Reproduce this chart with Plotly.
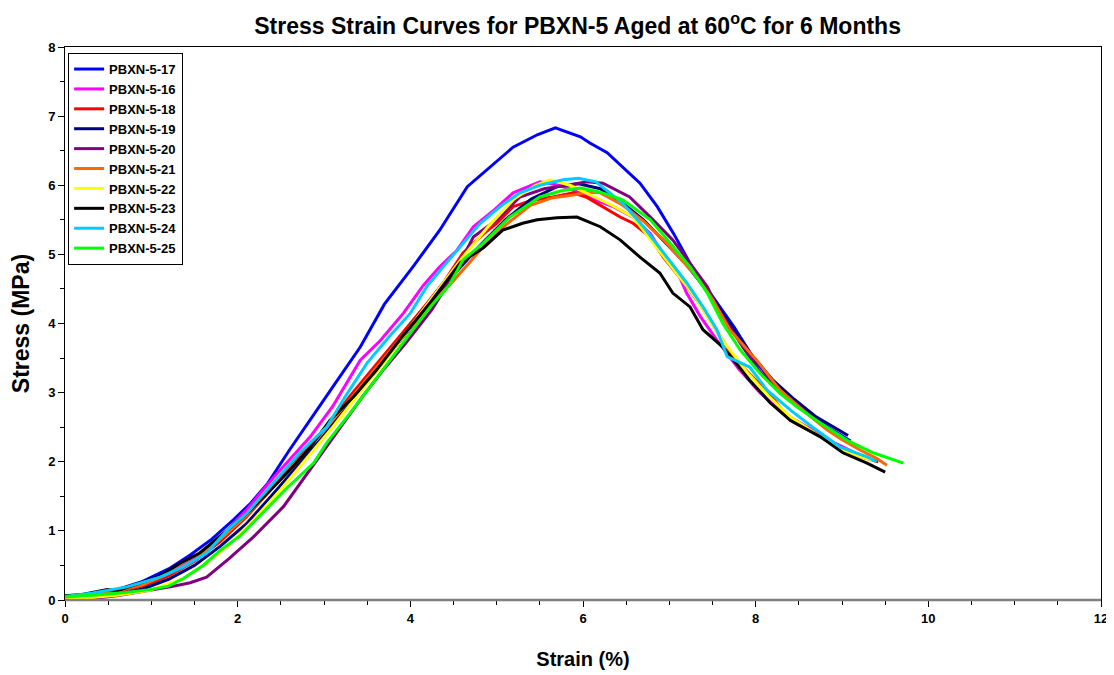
import plotly.graph_objects as go

names = ["PBXN-5-17", "PBXN-5-16", "PBXN-5-18", "PBXN-5-19", "PBXN-5-20",
         "PBXN-5-21", "PBXN-5-22", "PBXN-5-23", "PBXN-5-24", "PBXN-5-25"]
colors = ["#0000FF", "#FF00FF", "#FF0000", "#000080", "#800080",
          "#FF6600", "#FFFF00", "#000000", "#00CCFF", "#00FF00"]

strain_17 = [0, 0.3, 0.6, 0.9, 1.2, 1.45, 1.7, 1.95, 2.15, 2.35, 2.6, 2.84, 3.1, 3.42, 3.7, 4.03, 4.34, 4.66, 4.92, 5.19, 5.47, 5.68, 5.97, 6.08, 6.28, 6.46, 6.66, 6.86, 7.05, 7.27, 7.5, 7.75, 8.0, 8.3, 8.6, 8.9, 9.1]
stress_17 = [0.05, 0.08, 0.15, 0.27, 0.45, 0.65, 0.88, 1.16, 1.4, 1.69, 2.17, 2.6, 3.08, 3.66, 4.28, 4.82, 5.35, 5.98, 6.26, 6.55, 6.73, 6.83, 6.7, 6.61, 6.47, 6.26, 6.03, 5.69, 5.3, 4.8, 4.4, 3.95, 3.45, 3.0, 2.7, 2.45, 2.3]

strain_16 = [0, 0.3, 0.6, 0.9, 1.2, 1.5, 1.8, 2.1, 2.4, 2.62, 2.84, 3.1, 3.42, 3.65, 3.92, 4.15, 4.34, 4.54, 4.73, 4.95, 5.19, 5.5, 5.72, 5.95, 6.15, 6.35, 6.58, 6.78, 6.93, 7.1, 7.2, 7.36, 7.55, 7.8, 8.05, 8.3, 8.6, 8.9, 9.2, 9.35]
stress_16 = [0.03, 0.07, 0.13, 0.22, 0.38, 0.6, 0.9, 1.3, 1.75, 2.05, 2.36, 2.8, 3.47, 3.75, 4.15, 4.55, 4.82, 5.06, 5.4, 5.62, 5.89, 6.05, 6.0, 5.9, 5.78, 5.69, 5.54, 5.3, 5.0, 4.73, 4.44, 4.1, 3.76, 3.35, 3.0, 2.72, 2.5, 2.28, 2.1, 2.03]

strain_18 = [0, 0.3, 0.6, 0.9, 1.2, 1.5, 1.8, 2.1, 2.4, 2.7, 3.0, 3.3, 3.6, 3.9, 4.2, 4.4, 4.61, 4.85, 5.0, 5.19, 5.4, 5.65, 5.89, 6.05, 6.2, 6.43, 6.58, 6.78, 6.93, 7.12, 7.32, 7.5, 7.74, 8.0, 8.2, 8.4, 8.7, 9.0, 9.2, 9.42]
stress_18 = [0.02, 0.06, 0.12, 0.2, 0.35, 0.56, 0.85, 1.2, 1.62, 2.05, 2.45, 2.95, 3.4, 3.85, 4.3, 4.62, 5.02, 5.3, 5.45, 5.69, 5.78, 5.83, 5.89, 5.82, 5.71, 5.54, 5.45, 5.25, 4.96, 4.67, 4.34, 3.98, 3.52, 3.18, 2.92, 2.6, 2.4, 2.18, 2.08, 2.0]

strain_19 = [0, 0.3, 0.6, 0.9, 1.2, 1.5, 1.8, 2.1, 2.4, 2.7, 3.0, 3.3, 3.6, 3.9, 4.2, 4.5, 4.8, 5.1, 5.4, 5.7, 5.95, 6.2, 6.45, 6.7, 6.95, 7.2, 7.45, 7.7, 7.95, 8.2, 8.45, 8.7, 8.9, 9.07]
stress_19 = [0.0, 0.03, 0.08, 0.16, 0.3, 0.5, 0.78, 1.1, 1.52, 1.95, 2.38, 2.85, 3.3, 3.78, 4.25, 4.7, 5.12, 5.5, 5.8, 5.98, 6.02, 5.95, 5.75, 5.5, 5.18, 4.85, 4.45, 4.0, 3.55, 3.18, 2.9, 2.65, 2.5, 2.38]

strain_20 = [0, 0.3, 0.6, 0.9, 1.22, 1.45, 1.64, 1.9, 2.18, 2.53, 2.72, 2.95, 3.2, 3.45, 3.7, 3.95, 4.25, 4.5, 4.73, 5.0, 5.27, 5.55, 5.81, 6.05, 6.23, 6.54, 6.78, 7.04, 7.24, 7.44, 7.55, 7.67, 7.85, 8.05, 8.3, 8.55, 8.8, 9.0, 9.15]
stress_20 = [0.0, 0.02, 0.06, 0.12, 0.19, 0.25, 0.33, 0.6, 0.91, 1.35, 1.68, 2.07, 2.5, 2.95, 3.35, 3.72, 4.2, 4.7, 5.25, 5.5, 5.83, 5.95, 6.0, 6.05, 6.03, 5.83, 5.54, 5.21, 4.87, 4.53, 4.24, 4.0, 3.66, 3.3, 3.0, 2.75, 2.5, 2.35, 2.25]

strain_21 = [0, 0.3, 0.6, 0.9, 1.2, 1.5, 1.8, 2.1, 2.4, 2.7, 3.0, 3.3, 3.6, 3.9, 4.2, 4.5, 4.81, 5.1, 5.39, 5.65, 5.89, 6.05, 6.2, 6.45, 6.7, 6.93, 7.12, 7.32, 7.5, 7.7, 8.01, 8.28, 8.59, 8.83, 9.0, 9.21, 9.4, 9.52]
stress_21 = [0.02, 0.06, 0.13, 0.22, 0.38, 0.58, 0.88, 1.22, 1.62, 2.02, 2.45, 2.9, 3.35, 3.8, 4.22, 4.62, 5.06, 5.42, 5.71, 5.82, 5.86, 5.9, 5.89, 5.72, 5.48, 5.21, 4.95, 4.67, 4.35, 3.91, 3.47, 3.04, 2.7, 2.46, 2.32, 2.17, 2.05, 1.95]

strain_22 = [0, 0.3, 0.6, 0.98, 1.37, 1.6, 1.9, 2.2, 2.5, 2.8, 3.1, 3.4, 3.7, 4.0, 4.3, 4.6, 4.9, 5.2, 5.45, 5.62, 5.85, 6.1, 6.35, 6.58, 6.85, 7.12, 7.3, 7.44, 7.65, 7.9, 8.15, 8.4, 8.7, 9.0, 9.2, 9.36]
stress_22 = [0.0, 0.03, 0.07, 0.14, 0.31, 0.5, 0.8, 1.18, 1.6, 2.05, 2.5, 2.98, 3.45, 3.95, 4.45, 4.95, 5.4, 5.8, 6.0, 6.08, 6.0, 5.85, 5.7, 5.54, 5.1, 4.67, 4.38, 4.1, 3.7, 3.3, 2.95, 2.65, 2.4, 2.18, 2.08, 2.02]

strain_23 = [0, 0.2, 0.49, 0.6, 0.9, 1.1, 1.33, 1.56, 1.88, 2.15, 2.41, 2.62, 2.84, 3.07, 3.35, 3.61, 3.9, 4.23, 4.58, 4.85, 5.07, 5.3, 5.47, 5.7, 5.93, 6.2, 6.43, 6.66, 6.89, 7.04, 7.24, 7.39, 7.62, 7.93, 8.17, 8.4, 8.75, 9.01, 9.29, 9.5]
stress_23 = [0.06, 0.08, 0.15, 0.13, 0.26, 0.35, 0.53, 0.68, 1.01, 1.3, 1.63, 1.9, 2.21, 2.6, 2.95, 3.33, 3.8, 4.3, 4.88, 5.1, 5.35, 5.45, 5.5, 5.53, 5.54, 5.4, 5.21, 4.96, 4.73, 4.44, 4.24, 3.91, 3.66, 3.18, 2.85, 2.6, 2.36, 2.13, 1.98, 1.85]

strain_24 = [0, 0.32, 0.72, 1.1, 1.37, 1.64, 1.88, 2.11, 2.41, 2.72, 3.03, 3.25, 3.5, 3.75, 4.0, 4.2, 4.42, 4.6, 4.81, 5.05, 5.27, 5.5, 5.77, 5.95, 6.15, 6.3, 6.46, 6.7, 6.97, 7.2, 7.39, 7.55, 7.67, 7.93, 8.13, 8.4, 8.66, 8.98, 9.29, 9.4]
stress_24 = [0.05, 0.1, 0.19, 0.33, 0.48, 0.68, 1.01, 1.26, 1.69, 2.13, 2.5, 2.95, 3.43, 3.8, 4.15, 4.55, 4.88, 5.15, 5.45, 5.7, 5.89, 6.0, 6.08, 6.1, 6.05, 5.9, 5.74, 5.4, 4.96, 4.59, 4.24, 3.91, 3.52, 3.37, 3.04, 2.75, 2.5, 2.21, 2.07, 2.0]

strain_25 = [0, 0.32, 0.7, 0.98, 1.2, 1.37, 1.6, 1.8, 2.03, 2.3, 2.57, 2.88, 3.03, 3.3, 3.68, 3.95, 4.23, 4.45, 4.61, 4.84, 5.15, 5.5, 5.75, 5.97, 6.2, 6.46, 6.78, 7.01, 7.24, 7.44, 7.62, 7.82, 8.05, 8.28, 8.48, 8.75, 9.06, 9.36, 9.71]
stress_25 = [0.05, 0.07, 0.11, 0.15, 0.2, 0.31, 0.5, 0.72, 0.93, 1.28, 1.62, 1.98, 2.27, 2.7, 3.33, 3.78, 4.24, 4.55, 4.92, 5.16, 5.54, 5.83, 5.92, 5.96, 5.9, 5.79, 5.5, 5.16, 4.82, 4.44, 4.0, 3.62, 3.28, 2.99, 2.79, 2.56, 2.31, 2.13, 1.98]

strains = [strain_17, strain_16, strain_18, strain_19, strain_20,
           strain_21, strain_22, strain_23, strain_24, strain_25]
stresses = [stress_17, stress_16, stress_18, stress_19, stress_20,
            stress_21, stress_22, stress_23, stress_24, stress_25]

FONT = "Liberation Sans, Arial, sans-serif"

fig = go.Figure()
for n, c, xs, ys in zip(names, colors, strains, stresses):
    fig.add_trace(go.Scatter(x=xs, y=ys, mode="lines", name=n,
                             line=dict(color=c, width=3)))

# page body has an 8px margin, so the figure is sized/offset to compensate
fig.update_layout(
    width=1106, height=667,
    margin=dict(l=57, r=13, t=39, b=75, autoexpand=False),
    paper_bgcolor="white", plot_bgcolor="white",
    title=dict(text="<b>Stress Strain Curves for PBXN-5 Aged at 60<sup>o</sup>C for 6 Months</b>",
               x=0.515, xanchor="center", y=0.973, yanchor="middle", automargin=False,
               font=dict(family=FONT, size=23, color="black")),
    legend=dict(x=0.003, y=0.989, xanchor="left", yanchor="top",
                bgcolor="white", bordercolor="black", borderwidth=1,
                font=dict(family=FONT, size=13, color="black", weight="bold"),
                itemwidth=30, tracegroupgap=0),
    showlegend=True,
)
fig.update_xaxes(range=[0, 12], dtick=2, tick0=0, showgrid=False, zeroline=False,
                 automargin=False,
                 showline=True, linecolor="black", linewidth=1, mirror=True,
                 ticks="outside", ticklen=6, tickcolor="black",
                 minor=dict(dtick=0.5, ticks="outside", ticklen=4, tickcolor="black"),
                 tickfont=dict(family=FONT, size=13, color="black", weight="bold"),
                 title=dict(text="<b>Strain (%)</b>", font=dict(family=FONT, size=20, color="black"),
                            standoff=27))
fig.update_yaxes(range=[0, 8], dtick=1, tick0=0, showgrid=False, zeroline=False,
                 automargin=False,
                 showline=True, linecolor="black", linewidth=1, mirror=True,
                 ticks="outside", ticklen=6, tickcolor="black",
                 minor=dict(dtick=0.5, ticks="outside", ticklen=4, tickcolor="black"),
                 tickfont=dict(family=FONT, size=13, color="black", weight="bold"),
                 title=dict(text="<b>Stress (MPa)</b>", font=dict(family=FONT, size=23, color="black"),
                            standoff=14))
fig.add_shape(type="line", xref="x domain", yref="y domain", x0=0, x1=1, y0=0, y1=0,
              line=dict(color="#808080", width=2.5), layer="above")

fig.write_html("out.html")
